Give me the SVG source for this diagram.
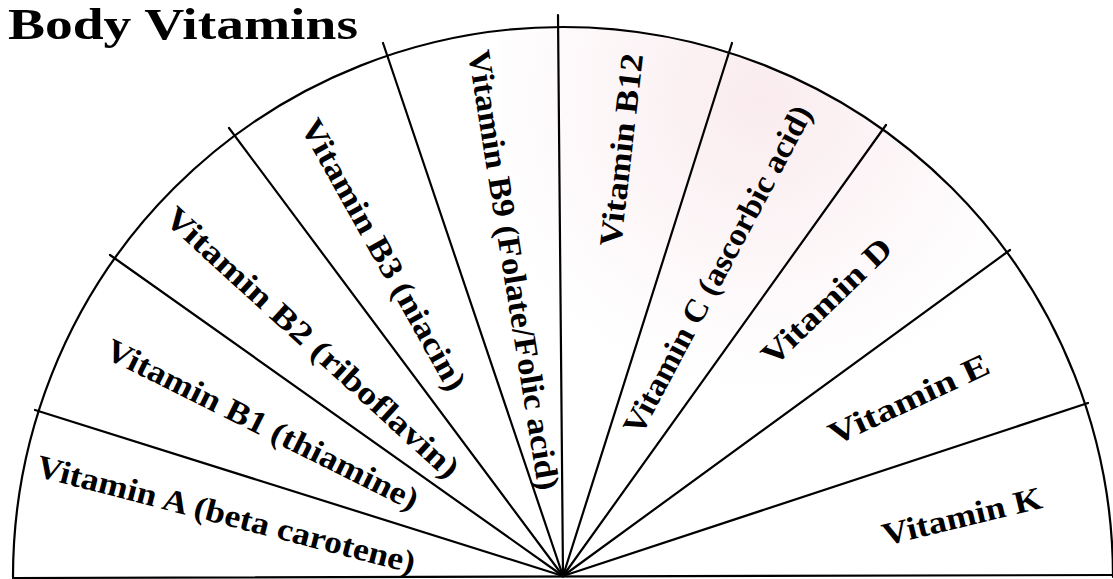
<svg xmlns="http://www.w3.org/2000/svg" width="1113" height="579" viewBox="0 0 1113 579">
  <defs>
    <radialGradient id="pink" cx="760" cy="100" r="320" gradientUnits="userSpaceOnUse">
      <stop offset="0" stop-color="#f7e2e7" stop-opacity="0.7"/>
      <stop offset="0.6" stop-color="#faecef" stop-opacity="0.35"/>
      <stop offset="1" stop-color="#ffffff" stop-opacity="0"/>
    </radialGradient>
    <clipPath id="fanclip">
      <path d="M 13 577 A 550 550 0 1 1 1113 577 Z"/>
    </clipPath>
  </defs>
  <style>
    .line { stroke: #000; stroke-width: 2.2; fill: none; stroke-linecap: round; }
    .lbl { font-family: "Liberation Serif", "Times New Roman", serif; font-weight: bold; font-size: 32px; fill: #000; text-anchor: middle; }
    .title { font-family: "Liberation Serif", "Times New Roman", serif; font-weight: bold; font-size: 44px; fill: #000; }
  </style>
  <rect x="0" y="0" width="1113" height="579" fill="#ffffff"/>
  <g id="tint" clip-path="url(#fanclip)">
    <rect x="500" y="0" width="600" height="420" fill="url(#pink)"/>
  </g>
  <text id="title" class="title" x="8" y="39" textLength="350" lengthAdjust="spacingAndGlyphs">Body Vitamins</text>
  <g id="fan">
    <path class="line" d="M 13 577 A 550 550 0 1 1 1113 577"/>
    <line class="line" x1="13" y1="578" x2="1113" y2="575"/>
  </g>
  <g id="connectors">
    <line class="line" x1="563" y1="576" x2="35" y2="410"/>
    <line class="line" x1="563" y1="576" x2="110" y2="255"/>
    <line class="line" x1="563" y1="576" x2="229" y2="128"/>
    <line class="line" x1="563" y1="576" x2="383" y2="43"/>
    <line class="line" x1="563" y1="576" x2="558" y2="15"/>
    <line class="line" x1="563" y1="576" x2="732" y2="43"/>
    <line class="line" x1="563" y1="576" x2="886" y2="125"/>
    <line class="line" x1="563" y1="576" x2="1010" y2="250"/>
    <line class="line" x1="563" y1="576" x2="1088" y2="403"/>
  </g>
  <g id="vitamin-a"><text class="lbl" transform="translate(226,515) rotate(14.5)" y="10" textLength="390" lengthAdjust="spacingAndGlyphs">Vitamin A (beta carotene)</text></g>
  <g id="vitamin-b1"><text class="lbl" transform="translate(262,425) rotate(26.5)" y="10" textLength="345" lengthAdjust="spacingAndGlyphs">Vitamin B1 (thiamine)</text></g>
  <g id="vitamin-b2"><text class="lbl" transform="translate(312,343) rotate(42.4)" y="10" textLength="386" lengthAdjust="spacingAndGlyphs">Vitamin B2 (riboflavin)</text></g>
  <g id="vitamin-b3"><text class="lbl" transform="translate(383,255) rotate(60.8)" y="10" textLength="306" lengthAdjust="spacingAndGlyphs">Vitamin B3 (niacin)</text></g>
  <g id="vitamin-b9"><text class="lbl" transform="translate(513,270) rotate(80.9)" y="10" textLength="445" lengthAdjust="spacingAndGlyphs">Vitamin B9 (Folate/Folic acid)</text></g>
  <g id="vitamin-b12"><text class="lbl" transform="translate(622,150) rotate(-83.4)" y="10" textLength="194" lengthAdjust="spacingAndGlyphs">Vitamin B12</text></g>
  <g id="vitamin-c"><text class="lbl" transform="translate(718,270) rotate(-62)" y="10" textLength="367" lengthAdjust="spacingAndGlyphs">Vitamin C (ascorbic acid)</text></g>
  <g id="vitamin-d"><text class="lbl" transform="translate(827,302) rotate(-44)" y="10" textLength="168" lengthAdjust="spacingAndGlyphs">Vitamin D</text></g>
  <g id="vitamin-e"><text class="lbl" transform="translate(909,400) rotate(-25)" y="10" textLength="174" lengthAdjust="spacingAndGlyphs">Vitamin E</text></g>
  <g id="vitamin-k"><text class="lbl" transform="translate(962,517) rotate(-13.5)" y="10" textLength="163" lengthAdjust="spacingAndGlyphs">Vitamin K</text></g>
</svg>
